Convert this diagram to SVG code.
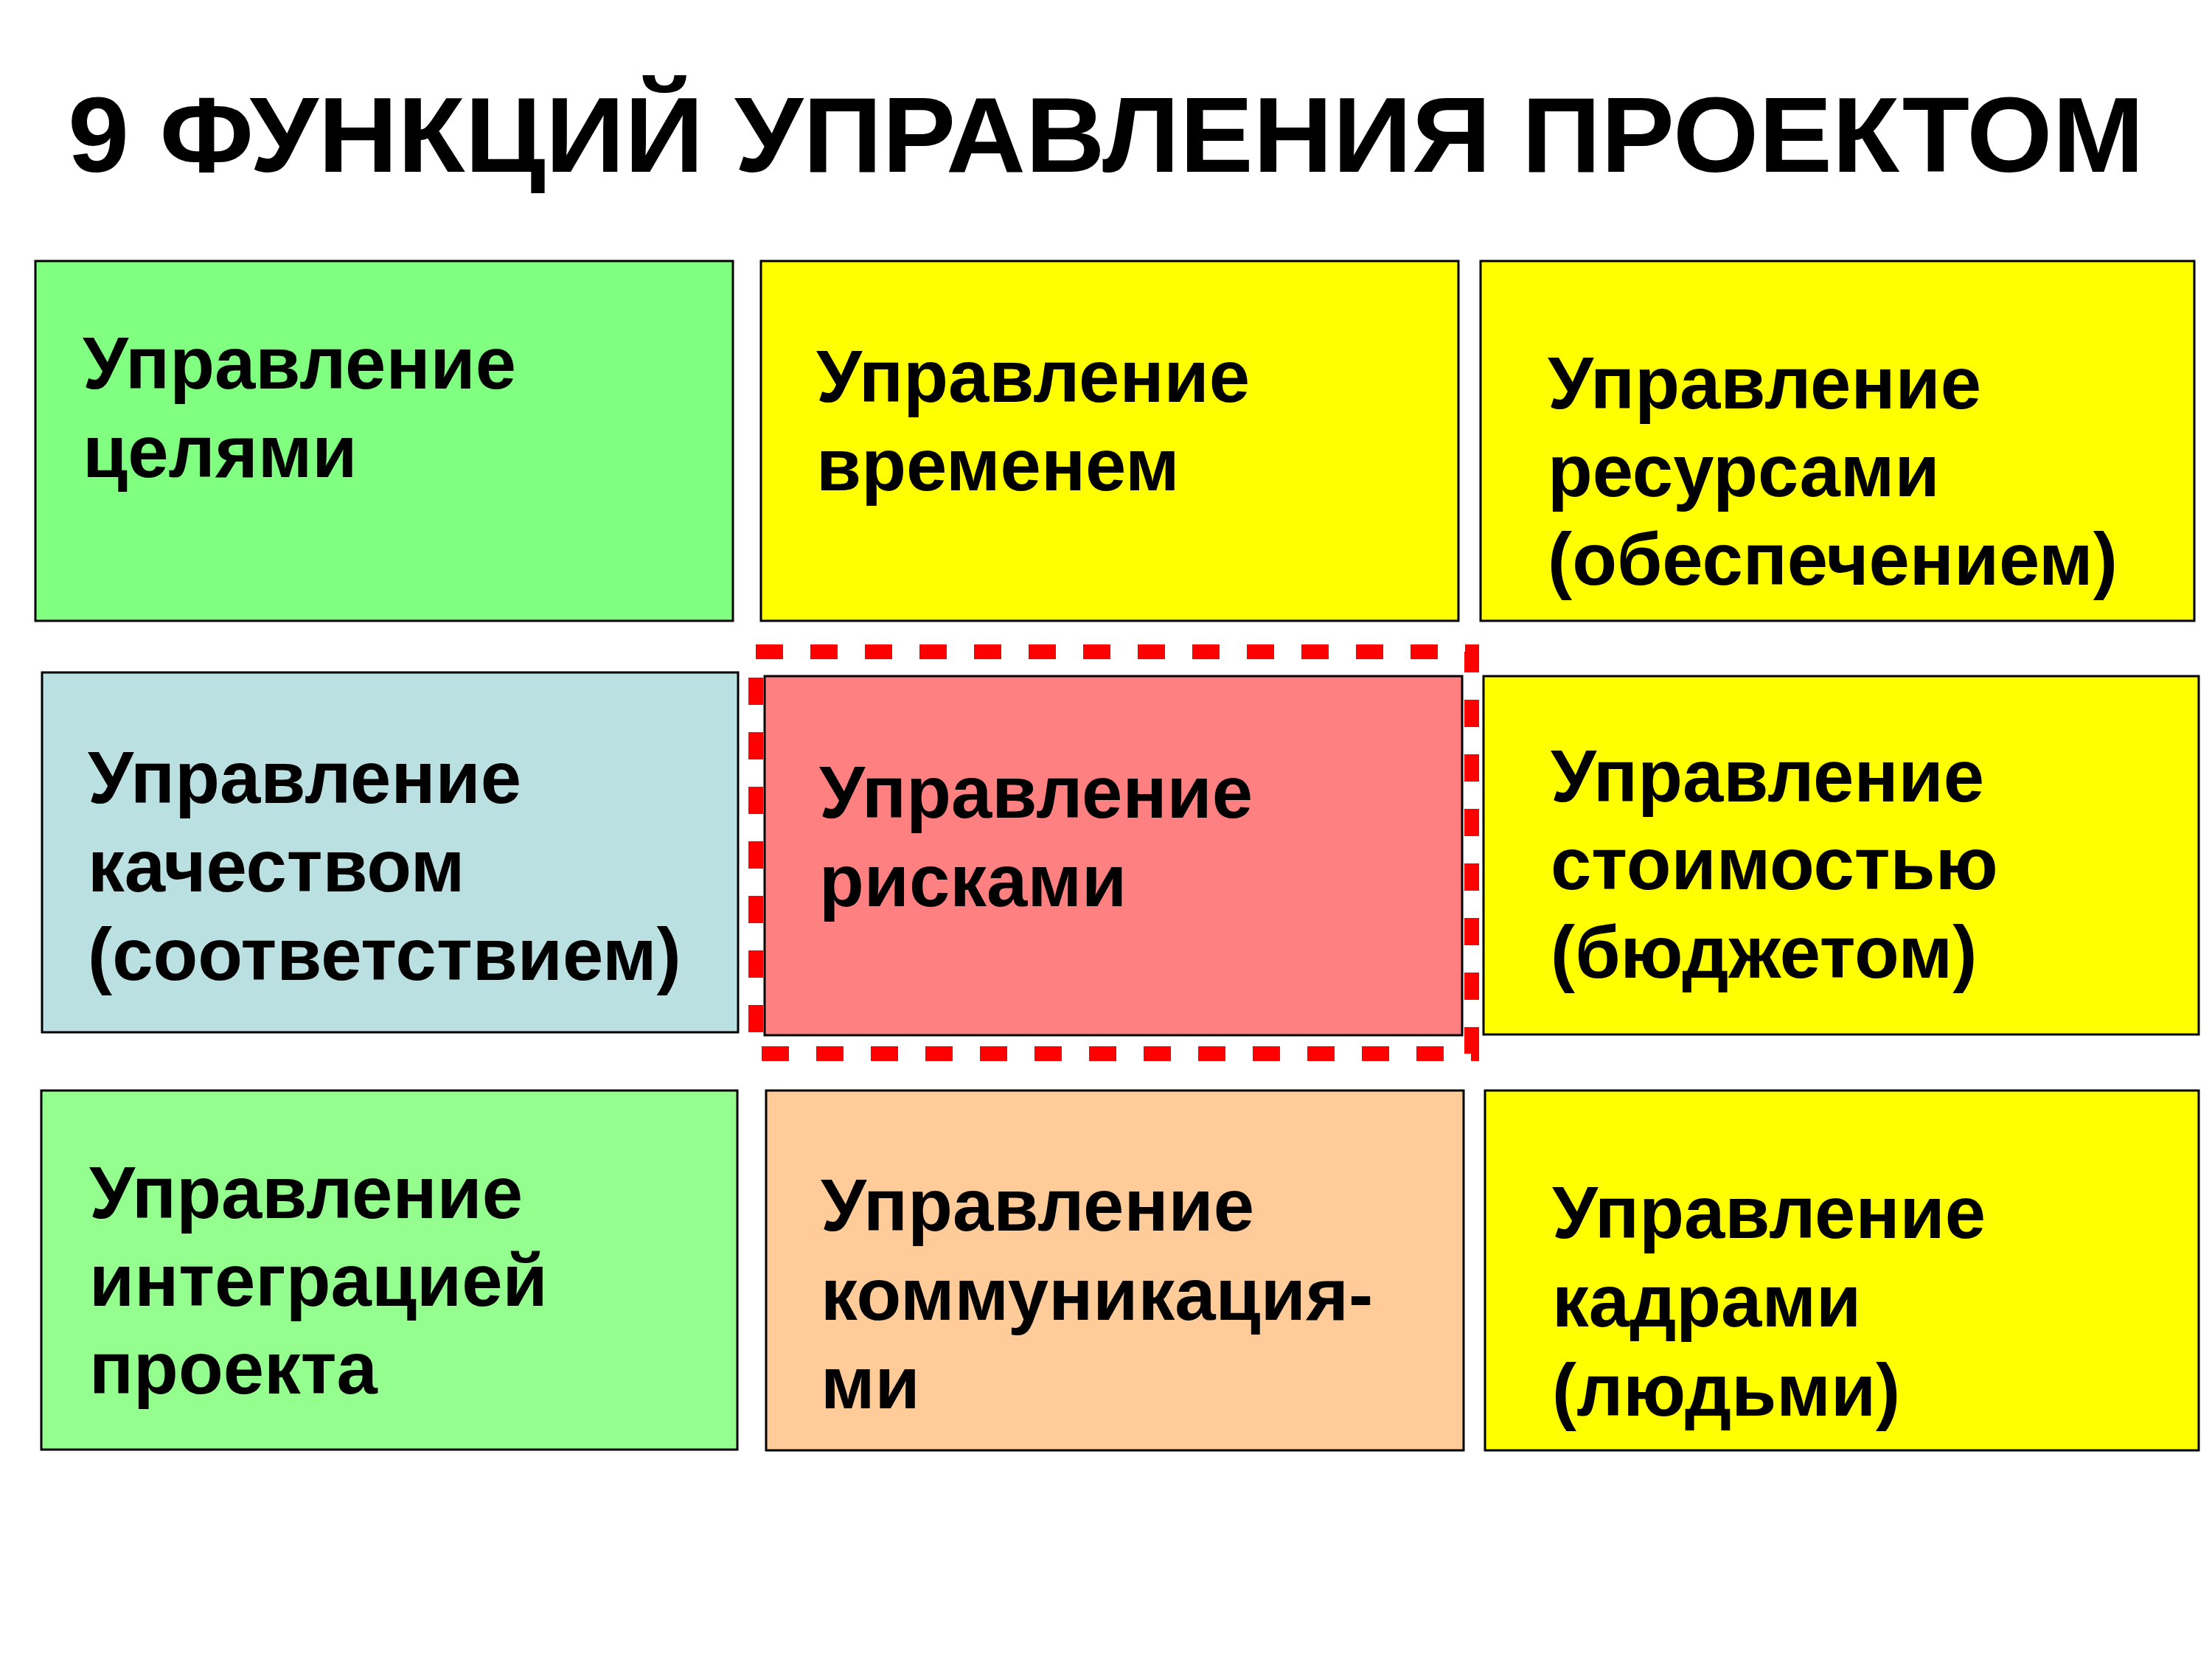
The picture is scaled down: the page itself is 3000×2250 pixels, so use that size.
<svg xmlns="http://www.w3.org/2000/svg" width="3000" height="2250" viewBox="0 0 3000 2250">
<style>
.box{stroke:#000;stroke-width:3}
.t{font-family:"Liberation Sans",Arial,sans-serif;font-weight:bold;font-size:99.5px;fill:#000}
.title{font-family:"Liberation Sans",Arial,sans-serif;font-weight:bold;font-size:144px;fill:#000}
</style>
<rect width="3000" height="2250" fill="#fff"/>
<text id="title" class="title" x="92" y="233" textLength="2816" lengthAdjust="spacingAndGlyphs">9 ФУНКЦИЙ УПРАВЛЕНИЯ ПРОЕКТОМ</text>
<g id="n1"><rect class="box" x="48" y="354" width="946" height="488" fill="#80FF80"/>
<text class="t"><tspan x="112" y="527">Управление</tspan><tspan x="112" y="647">целями</tspan></text></g>
<g id="n2"><rect class="box" x="1032" y="354" width="946" height="488" fill="#FFFF00"/>
<text class="t"><tspan x="1107" y="545">Управление</tspan><tspan x="1107" y="665">временем</tspan></text></g>
<g id="n3"><rect class="box" x="2008" y="354" width="968" height="488" fill="#FFFF00"/>
<text class="t"><tspan x="2099" y="554">Управление</tspan><tspan x="2099" y="673">ресурсами</tspan><tspan x="2099" y="793">(обеспечением)</tspan></text></g>
<g id="n4"><rect class="box" x="57" y="912" width="944" height="488" fill="#BAE0E2"/>
<text class="t"><tspan x="119" y="1089">Управление</tspan><tspan x="119" y="1209">качеством</tspan><tspan x="119" y="1329">(соответствием)</tspan></text></g>
<g id="n5"><rect class="box" x="1037" y="917" width="946" height="487" fill="#FF8080"/>
<text class="t"><tspan x="1111" y="1109">Управление</tspan><tspan x="1111" y="1229">рисками</tspan></text>
<rect x="1025" y="884" width="971" height="545" fill="none" stroke="#FF0000" stroke-width="20" stroke-dasharray="37 37"/></g>
<g id="n6"><rect class="box" x="2012" y="917" width="970" height="486" fill="#FFFF00"/>
<text class="t"><tspan x="2103" y="1087">Управление</tspan><tspan x="2103" y="1206">стоимостью</tspan><tspan x="2103" y="1326">(бюджетом)</tspan></text></g>
<g id="n7"><rect class="box" x="56" y="1479" width="944" height="487" fill="#94FF8F"/>
<text class="t"><tspan x="121" y="1652">Управление</tspan><tspan x="121" y="1771">интеграцией</tspan><tspan x="121" y="1890">проекта</tspan></text></g>
<g id="n8"><rect class="box" x="1039" y="1479" width="946" height="488" fill="#FFCC99"/>
<text class="t"><tspan x="1113" y="1669">Управление</tspan><tspan x="1113" y="1790">коммуникация-</tspan><tspan x="1113" y="1910">ми</tspan></text></g>
<g id="n9"><rect class="box" x="2014" y="1479" width="968" height="488" fill="#FFFF00"/>
<text class="t"><tspan x="2105" y="1679">Управление</tspan><tspan x="2105" y="1799">кадрами</tspan><tspan x="2105" y="1920">(людьми)</tspan></text></g>
<g id="connectors"/>
</svg>
